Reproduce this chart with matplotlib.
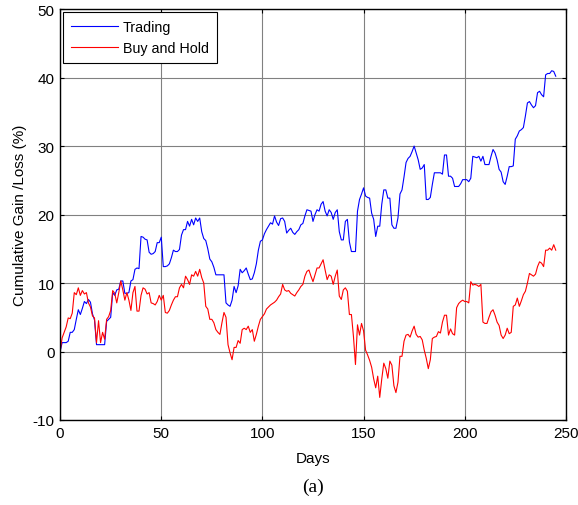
import matplotlib
matplotlib.use('Agg')
import matplotlib.pyplot as plt
import numpy as np

# cumulative gain/loss (%) per day
trading = [0, 1.3, 1.3, 1.3, 1.5, 2.8, 2.8, 3.2, 4.7, 6.1,
	5.4, 6.3, 7.3, 7.0, 7.6, 7.2, 5.5, 4.6, 1.0, 1.0,
	1.0, 1.0, 1.0, 4.4, 4.7, 5.0, 8.6, 8.2, 9.0, 9.1,
	10.3, 10.3, 8.5, 8.5, 8.6, 10.3, 10.5, 12.0, 12.2, 12.1,
	16.8, 16.7, 16.4, 16.3, 14.5, 14.2, 14.3, 14.6, 15.9, 15.9,
	16.7, 12.4, 12.4, 12.5, 12.8, 13.7, 14.8, 14.6, 14.6, 14.9,
	17.0, 17.8, 17.8, 19.0, 18.3, 19.3, 18.5, 19.5, 19.0, 19.5,
	17.5, 16.5, 16.2, 15.0, 13.5, 13.1, 12.3, 11.2, 11.2, 11.2,
	11.2, 11.2, 7.1, 6.8, 6.6, 7.5, 9.5, 8.6, 9.6, 12.0,
	11.5, 11.8, 12.2, 11.3, 10.5, 10.6, 11.5, 12.8, 14.8, 16.1,
	16.3, 17.2, 17.8, 18.3, 18.8, 18.6, 19.8, 18.9, 18.4, 19.4,
	19.5, 19.0, 17.3, 17.7, 18.0, 17.4, 17.1, 17.5, 17.8, 18.5,
	18.7, 19.8, 20.7, 20.6, 20.5, 19.0, 20.0, 20.7, 20.5, 21.5,
	21.9, 20.5, 19.8, 20.7, 20.3, 19.3, 20.3, 20.7, 17.5, 16.3,
	16.3, 19.0, 19.3, 16.0, 14.6, 14.6, 14.6, 20.5, 22.2, 23.0,
	23.9, 22.7, 22.5, 22.4, 20.2, 19.3, 16.8, 18.3, 18.3, 21.5,
	23.6, 23.6, 22.4, 22.4, 18.5, 18.0, 18.0, 19.5, 23.0, 23.6,
	25.5, 27.6, 28.2, 28.5, 29.2, 30.0, 29.0, 28.0, 26.6, 26.8,
	27.3, 22.2, 22.2, 22.5, 24.4, 26.1, 26.1, 26.1, 26.1, 25.9,
	28.7, 28.7, 25.6, 25.6, 25.3, 24.1, 24.1, 24.1, 24.5, 25.1,
	25.1, 25.1, 24.8, 25.3, 28.5, 28.4, 28.3, 28.5, 27.8, 28.5,
	27.3, 27.3, 27.3, 28.5, 29.5, 29.0, 28.0, 26.6, 26.2, 24.8,
	24.4, 25.6, 27.0, 27.0, 27.1, 31.0, 31.5, 32.2, 32.4, 32.7,
	34.4, 36.3, 36.5, 36.0, 35.6, 35.9, 37.8, 38.0, 37.5, 37.2,
	40.4, 40.6, 40.6, 41.0, 40.9, 40.2]

buyhold = [0, 2.0, 2.8, 3.6, 4.9, 4.8, 5.6, 8.6, 8.3, 9.3,
	8.2, 8.9, 8.4, 8.6, 7.1, 6.5, 5.2, 4.9, 1.3, 4.5,
	1.3, 2.8, 1.8, 4.7, 5.1, 6.0, 8.9, 8.5, 7.1, 8.6,
	10.3, 9.0, 7.5, 8.6, 7.5, 6.0, 8.6, 9.5, 5.9, 5.9,
	8.2, 9.3, 9.1, 8.4, 8.6, 7.1, 7.0, 6.8, 7.3, 8.2,
	7.5, 8.2, 5.7, 5.6, 6.0, 6.8, 7.5, 8.0, 8.0, 9.3,
	9.8, 9.3, 11.0, 10.5, 9.8, 11.2, 11.0, 11.7, 11.0, 12.0,
	10.8, 10.0, 6.6, 6.2, 4.7, 4.7, 4.2, 3.2, 2.8, 2.5,
	4.2, 5.7, 5.0, 1.0, -0.2, -1.2, 0.6, 0.6, 1.6, 1.2,
	3.2, 3.4, 3.2, 3.7, 2.8, 3.2, 1.5, 2.5, 3.7, 4.7,
	5.1, 5.5, 6.2, 6.5, 6.8, 7.0, 7.2, 7.5, 8.0, 8.4,
	9.8, 9.0, 8.8, 8.9, 8.5, 8.3, 8.1, 8.6, 9.0, 9.5,
	9.8, 11.0, 11.7, 11.9, 11.0, 10.2, 11.2, 12.2, 12.2, 12.8,
	13.4, 11.9, 10.5, 11.2, 11.0, 9.8, 11.0, 11.9, 8.1, 7.6,
	9.0, 9.3, 8.8, 5.4, 5.4, 2.2, -1.9, 3.9, 2.4, 4.1,
	3.0, 0.2, -0.5, -1.3, -2.3, -4.0, -5.3, -3.6, -6.7, -4.0,
	-1.7, -2.5, -3.9, -1.4, -2.0, -5.0, -6.0, -4.5, -0.7, -0.7,
	1.5, 2.4, 2.5, 2.1, 3.0, 3.7, 2.5, 2.1, 2.2, 1.7,
	0.2, -1.0, -2.5, -1.2, 1.9, 2.1, 2.2, 2.9, 2.7, 4.3,
	5.3, 5.3, 2.4, 3.3, 2.6, 2.4, 6.4, 7.0, 7.3, 7.5,
	7.3, 7.3, 7.1, 10.2, 9.7, 9.8, 9.7, 9.5, 9.8, 4.3,
	4.1, 4.1, 5.0, 5.8, 6.1, 5.3, 4.3, 3.8, 2.4, 1.9,
	2.4, 3.4, 2.6, 2.8, 6.6, 6.8, 7.8, 6.6, 7.4, 8.3,
	8.8, 10.0, 11.4, 11.2, 11.0, 11.3, 12.4, 13.1, 12.9, 12.4,
	14.8, 14.8, 15.1, 14.8, 15.6, 14.8]

days = np.arange(len(trading))

plt.rcParams['font.family'] = ['Liberation Sans', 'DejaVu Sans']
plt.rcParams['font.size'] = 11
plt.rcParams['axes.unicode_minus'] = False

fig = plt.figure(figsize=(5.78, 5.06), dpi=100)
ax = fig.add_axes([0.104, 0.168, 0.875, 0.812])

ax.plot(days, trading, color='#0000ff', linewidth=0.8, label='Trading')
ax.plot(days, buyhold, color='#ff0000', linewidth=0.8, label='Buy and Hold')

ax.set_xlim(0, 250)
ax.set_ylim(-10, 50)
ax.set_xticks(np.arange(0, 251, 50))
ax.set_yticks(np.arange(-10, 51, 10))
ax.grid(True, color='#808080', linewidth=0.8, linestyle='-')
ax.set_axisbelow(True)
ax.tick_params(direction='in', top=True, right=True, length=3, width=0.8, labelsize=11, pad=4)
for s in ax.spines.values():
	s.set_linewidth(1.0)
	s.set_color('black')

ax.set_xlabel('Days', fontsize=11, labelpad=8)
ax.set_ylabel('Cumulative Gain /Loss (%)', fontsize=11, labelpad=4)

leg = ax.legend(loc='upper left', fontsize=10.3, fancybox=False, framealpha=1,
	edgecolor='black', borderaxespad=0.2, handlelength=3.3, borderpad=0.55,
	labelspacing=0.5, handletextpad=0.35)
leg.get_frame().set_linewidth(0.8)

fig.text(0.541, 0.037, '(a)', family=['Liberation Serif', 'DejaVu Serif'], fontsize=14,
	ha='center', va='center')

fig.savefig('out.png', dpi=100)
